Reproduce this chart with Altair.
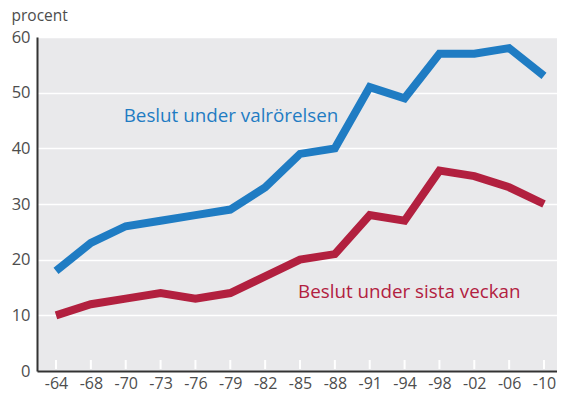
import altair as alt
import pandas as pd

years = ["-64", "-68", "-70", "-73", "-76", "-79", "-82", "-85", "-88", "-91", "-94", "-98", "-02", "-06", "-10"]
valrorelsen = [18, 23, 26, 27, 28, 29, 33, 39, 40, 51, 49, 57, 57, 58, 53]
sista_veckan = [10, 12, 13, 14, 13, 14, 17, 20, 21, 28, 27, 36, 35, 33, 30]
series_names = ["Beslut under valrörelsen", "Beslut under sista veckan"]
colors = ["#1F7CC3", "#B2203F"]

rows = []
for name, vals in zip(series_names, [valrorelsen, sista_veckan]):
    for y, v in zip(years, vals):
        rows.append({"year": y, "value": v, "series": name})
df = pd.DataFrame(rows)

labels = pd.DataFrame({
    "series": series_names,
    "year": ["-70", "-85"],
    "value": [45.8, 14.2],
})

FONT = "Open Sans"
W, H = 520, 334

xscale = alt.Scale(domain=years, type="point", padding=0.459, align=0.594)
yscale = alt.Scale(domain=[0, 60])
cscale = alt.Scale(domain=series_names, range=colors)

xaxis = alt.Axis(title=None, labelAngle=0)
yaxis = alt.Axis(title="procent", values=[0, 10, 20, 30, 40, 50, 60])

X = alt.X("year:N", scale=xscale, sort=years, axis=xaxis)
Y = alt.Y("value:Q", scale=yscale, axis=yaxis)

lines = alt.Chart(df).mark_line(strokeWidth=8, strokeCap="butt", strokeJoin="miter").encode(
    x=X, y=Y,
    color=alt.Color("series:N", scale=cscale, legend=None),
)

ticks = alt.Chart(pd.DataFrame({"year": years})).mark_rule(color="white", strokeWidth=2).encode(
    x=X,
    y=alt.value(H - 11),
    y2=alt.value(H - 2),
)

text = alt.Chart(labels).mark_text(align="left", baseline="middle", dx=-2,
                                   font=FONT, fontSize=18.8).encode(
    x=X, y=Y,
    text="series:N",
    color=alt.Color("series:N", scale=cscale, legend=None),
)

chart = alt.layer(ticks, lines, text).properties(
    width=W, height=H,
    background="white",
    autosize=alt.AutoSizeParams(type="none"),
    padding={"left": 29, "top": 29, "right": 0, "bottom": 24},
).configure_view(
    fill="#E9E9EB", strokeWidth=0
).configure_axisX(
    ticks=False, grid=False, domainColor="#333333", domainWidth=2,
    labelFont=FONT, labelFontSize=16, labelColor="#4D4D4D", labelPadding=4,
).configure_axisY(
    ticks=False, grid=True, gridColor="white", gridWidth=1.5,
    domainColor="#333333", domainWidth=2,
    labelFont=FONT, labelFontSize=16.5, labelColor="#4D4D4D", labelPadding=7,
    titleAngle=0, titleAnchor="end", titleAlign="left", titleBaseline="alphabetic",
    titleX=-26, titleY=-17, titleFont=FONT, titleFontSize=15.5,
    titleFontWeight="normal", titleColor="#4D4D4D",
)

chart.save("out.html", embed_options={"renderer": "svg", "actions": False})
